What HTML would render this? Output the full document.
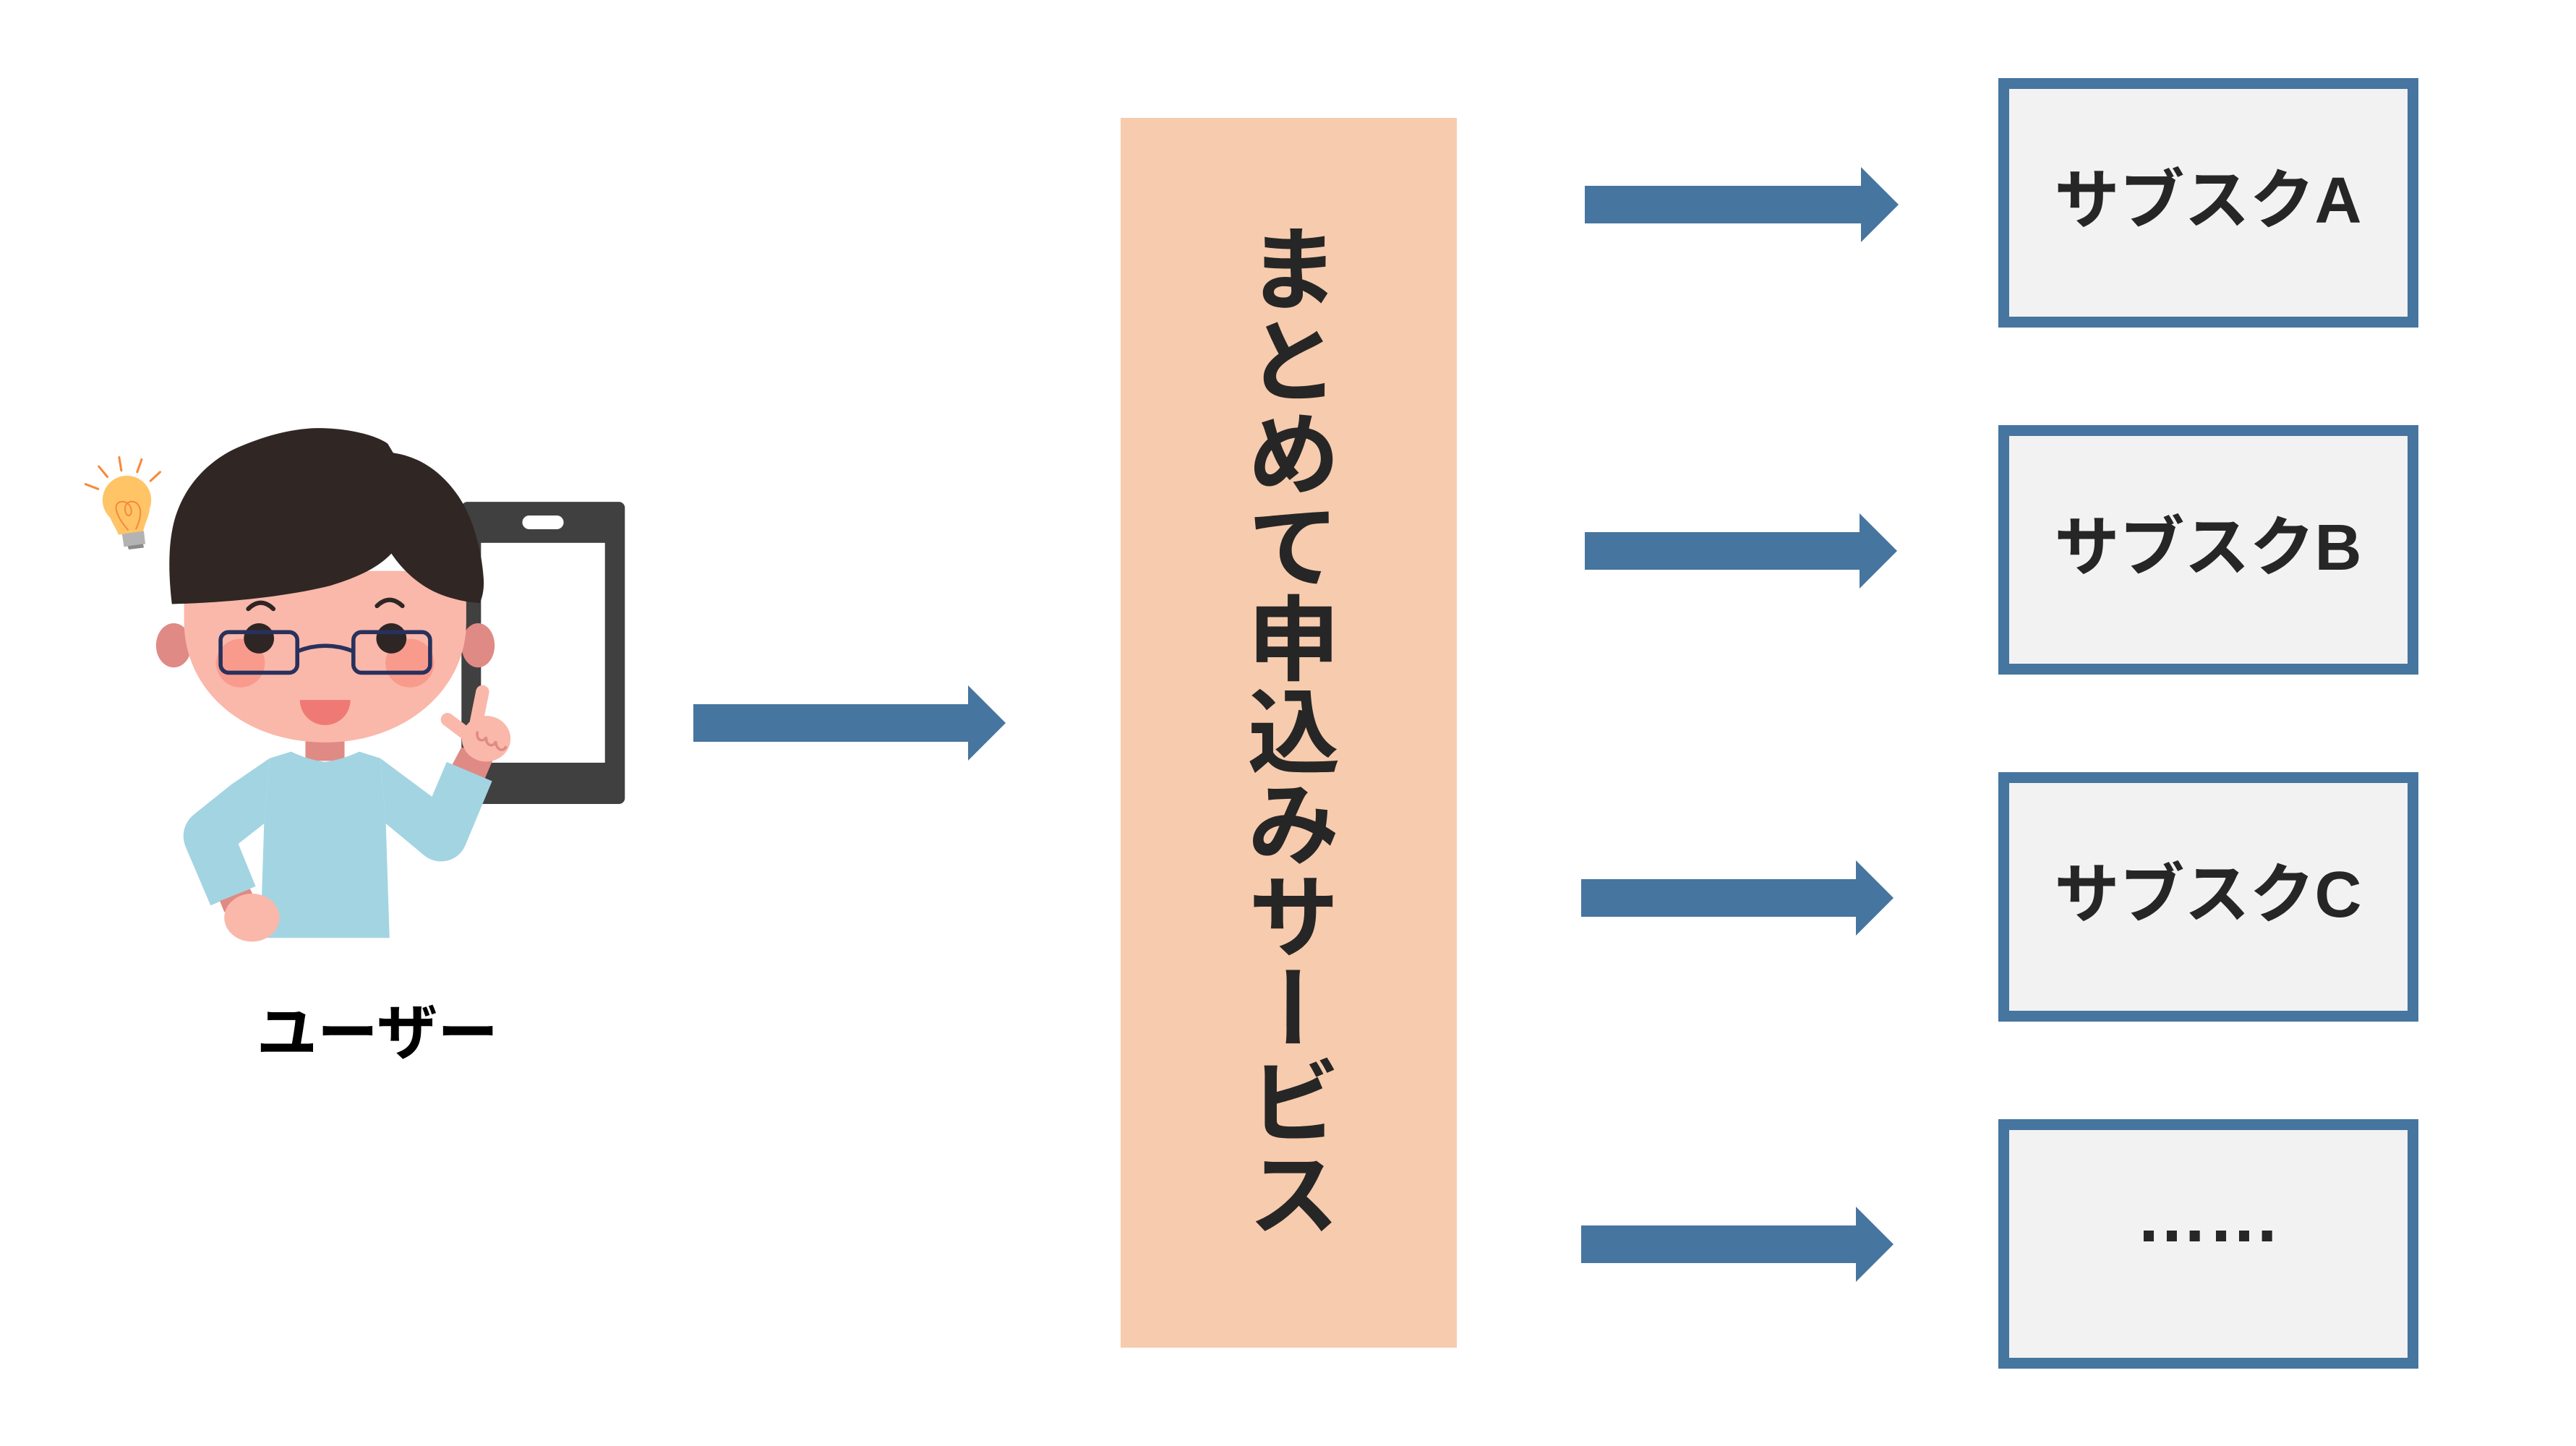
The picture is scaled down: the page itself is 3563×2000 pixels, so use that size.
<!DOCTYPE html>
<html lang="ja">
<head>
<meta charset="utf-8">
<style>
  html, body { margin:0; padding:0; background:#ffffff; }
  body { width:3563px; height:2000px; position:relative; overflow:hidden; }
  svg.main { position:absolute; left:0; top:0; }
  .vtext {
    position:absolute; left:1713px; top:306px; width:128px;
    writing-mode: vertical-rl;
    font-family: "Liberation Sans", "Noto Sans CJK JP", sans-serif;
    font-size:128px; line-height:128px; font-weight:700; color:#262626;
    white-space:nowrap;
  }
</style>
</head>
<body>
<svg class="main" width="3563" height="2000" viewBox="0 0 3563 2000" xmlns="http://www.w3.org/2000/svg">
  <rect x="0" y="0" width="3563" height="2000" fill="#ffffff"/>

  <!-- center box -->
  <rect x="1550" y="163" width="465" height="1701" fill="#f7cbad"/>

  <!-- left arrow -->
  <path d="M959,974 H1339 V948 L1391,1000 L1339,1052 V1026 H959 Z" fill="#46759f"/>

  <!-- right arrows -->
  <path d="M2192,257 H2574 V231 L2626,283 L2574,335 V309 H2192 Z" fill="#46759f"/>
  <path d="M2192,736 H2572 V710 L2624,762 L2572,814 V788 H2192 Z" fill="#46759f"/>
  <path d="M2187,1216 H2567 V1190 L2619,1242 L2567,1294 V1268 H2187 Z" fill="#46759f"/>
  <path d="M2187,1695 H2567 V1669 L2619,1721 L2567,1773 V1747 H2187 Z" fill="#46759f"/>

  <!-- right boxes -->
  <rect x="2771.5" y="115.5" width="566" height="330" fill="#f2f2f2" stroke="#46759f" stroke-width="15"/>
  <rect x="2771.5" y="595.5" width="566" height="330" fill="#f2f2f2" stroke="#46759f" stroke-width="15"/>
  <rect x="2771.5" y="1075.5" width="566" height="330" fill="#f2f2f2" stroke="#46759f" stroke-width="15"/>
  <rect x="2771.5" y="1555.5" width="566" height="330" fill="#f2f2f2" stroke="#46759f" stroke-width="15"/>

  <g font-family="'Liberation Sans', 'Noto Sans CJK JP', sans-serif" font-size="90" font-weight="700" fill="#262626" text-anchor="middle">
    <text x="3054" y="308">サブスクA</text>
    <text x="3054" y="788">サブスクB</text>
    <text x="3054" y="1268">サブスクC</text>
  </g>
  <text x="3054" y="1717" font-family="'Liberation Sans', 'Noto Sans CJK JP', sans-serif" font-size="100" font-weight="700" fill="#262626" text-anchor="middle">……</text>

  <!-- user label -->
  <text x="522" y="1458" font-family="'Liberation Sans', 'Noto Sans CJK JP', sans-serif" font-size="84" font-weight="700" fill="#000000" text-anchor="middle">ユーザー</text>

  <!-- person illustration -->
  <svg x="100" y="560" width="800" height="800" viewBox="0 0 1568 1568">
    <!-- bulb rays -->
    <g stroke="#f7893a" stroke-width="6" stroke-linecap="round">
      <line x1="36" y1="215" x2="70" y2="228"/>
      <line x1="72" y1="167" x2="95" y2="195"/>
      <line x1="127" y1="142" x2="133" y2="178"/>
      <line x1="188" y1="148" x2="176" y2="182"/>
      <line x1="238" y1="182" x2="212" y2="206"/>
    </g>
    <!-- bulb -->
    <circle cx="148" cy="258" r="66" fill="#ffc466"/>
    <path d="M98,290 C105,320 120,335 125,352 L192,345 C195,325 205,310 210,285 Z" fill="#ffc466"/>
    <path d="M135,350 L194,342 L198,377 L140,385 Z" fill="#b3b3b3"/>
    <path d="M150,383 L192,377 L194,387 L153,392 Z" fill="#8a8a8a"/>
    <path d="M152,340 C125,310 112,280 122,268 C134,255 158,265 160,285 C162,305 145,305 143,285 C141,262 165,255 178,270 C190,285 185,310 172,338" fill="none" stroke="#f7893a" stroke-width="4"/>

    <!-- phone -->
    <rect x="1055" y="263" width="443" height="819" rx="16" fill="#404040"/>
    <rect x="1108" y="374" width="336" height="596" fill="#ffffff"/>
    <rect x="1220" y="300" width="112" height="37" rx="18.5" fill="#ffffff"/>

    <!-- ears -->
    <ellipse cx="275" cy="652" rx="48" ry="60" fill="#e08a85"/>
    <ellipse cx="1100" cy="652" rx="45" ry="60" fill="#e08a85"/>

    <!-- neck -->
    <rect x="632" y="880" width="106" height="85" fill="#e08a85"/>

    <!-- face -->
    <path d="M303,450 L303,590 C305,780 470,915 685,915 C905,915 1068,770 1068,590 L1068,450 Z" fill="#fab8aa"/>

    <!-- cheeks -->
    <circle cx="456" cy="700" r="66" fill="#f99b8c"/>
    <circle cx="915" cy="700" r="66" fill="#f99b8c"/>

    <!-- eyes -->
    <circle cx="506" cy="633" r="41" fill="#2e2625"/>
    <circle cx="865" cy="633" r="41" fill="#2e2625"/>

    <!-- glasses -->
    <g fill="none" stroke="#28315d" stroke-width="11">
      <rect x="402" y="616" width="208" height="110" rx="22"/>
      <rect x="762" y="616" width="208" height="110" rx="22"/>
      <path d="M610,668 Q686,638 762,668"/>
    </g>

    <!-- eyebrows -->
    <g fill="none" stroke="#2e2625" stroke-width="12" stroke-linecap="round">
      <path d="M477,553 Q511,520 545,553"/>
      <path d="M826,545 Q860,512 895,545"/>
    </g>

    <!-- mouth -->
    <path d="M617,800 H754 A68.5,68 0 0 1 617,800 Z" fill="#ef7a75"/>

    <!-- hair -->
    <path d="M270,540 C262,470 258,390 275,320 C300,220 370,150 450,115 C530,80 600,65 660,63 C740,62 820,80 855,105 L870,130 C940,140 1000,180 1045,245 C1090,310 1110,400 1115,470 C1117,500 1112,520 1105,537 C1060,535 1000,520 960,495 C920,470 890,440 865,403 C830,440 780,465 700,490 C600,515 450,535 270,540 Z" fill="#302725"/>

    <!-- right hand (behind sleeve) -->
    <path d="M1030,975 L1055,928 L1142,958 L1118,1014 Z" fill="#e08a85"/>
    <g stroke="#fab8aa" stroke-width="36" stroke-linecap="round">
      <line x1="1093" y1="872" x2="1112" y2="778"/>
      <line x1="1066" y1="890" x2="1017" y2="853"/>
    </g>
    <ellipse cx="1122" cy="905" rx="66" ry="62" fill="#fab8aa"/>
    <path d="M1098,888 C1094,912 1118,915 1122,900 C1120,925 1142,930 1148,912 C1148,935 1168,942 1175,928" fill="none" stroke="#e08a85" stroke-width="7" stroke-linecap="round"/>

    <!-- shirt torso -->
    <path d="M535,958 L593,940 Q640,962 685,968 Q730,962 778,940 L835,958 L850,1135 L860,1445 L510,1445 L520,1135 Z" fill="#a3d4e2"/>
    <!-- left sleeve -->
    <path d="M535,958 L430,1030 L330,1110 C300,1135 295,1170 308,1200 L375,1357 L497,1305 L450,1190 L520,1135 Z" fill="#a3d4e2"/>
    <!-- right sleeve -->
    <path d="M835,958 L975,1062 L1015,968 L1138,1020 L1065,1195 C1045,1240 990,1250 955,1222 L850,1135 Z" fill="#a3d4e2"/>

    <!-- left hand -->
    <path d="M400,1345 L482,1312 L495,1340 L412,1375 Z" fill="#e08a85"/>
    <ellipse cx="487" cy="1390" rx="75" ry="65" fill="#fab8aa"/>
  </svg>
</svg>

<div class="vtext">まとめて申込みサービス</div>
</body>
</html>
